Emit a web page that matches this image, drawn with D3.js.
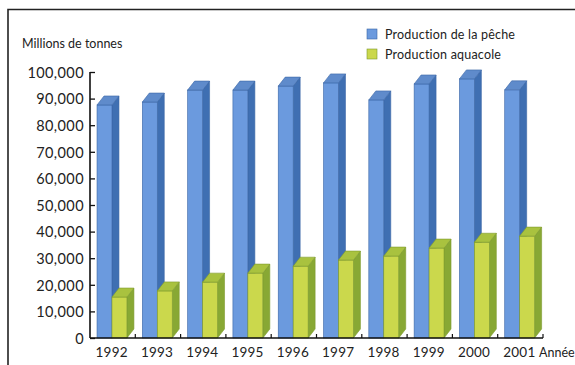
<!DOCTYPE html>
<html>
<head>
<meta charset="utf-8">
<script src="https://cdn.jsdelivr.net/npm/d3@7"></script>
<style>
  html, body { margin: 0; padding: 0; background: #fff; }
  svg { display: block; }
  text { font-family: Lato, "Open Sans", sans-serif; fill: #222; }
</style>
</head>
<body>
<svg id="chart" width="575" height="365"></svg>
<script>
// ---- data ----
const years = ["1992","1993","1994","1995","1996","1997","1998","1999","2000","2001"];
const peche = [87600, 88700, 93200, 93200, 94700, 95900, 89500, 95500, 97400, 93300];
const aquacole = [15400, 17700, 21000, 24400, 27000, 29300, 30800, 33800, 36000, 38300];
const yTicks = [0, 10000, 20000, 30000, 40000, 50000, 60000, 70000, 80000, 90000, 100000];
const seriesNames = ["Production de la pêche", "Production aquacole"];
const yTitle = "Millions de tonnes";
const xTitle = "Année";

// ---- layout ----
const svg = d3.select("#chart");
const x = d3.scaleBand().domain(years).range([90, 543]).paddingInner(0).paddingOuter(0);
const y = d3.scaleLinear().domain([0, 100000]).range([338, 72]);
const dx = 7, dy = 9;

// frame
svg.append("path").attr("d", "M8,365 L8,9.5 L575,9.5")
  .attr("fill", "none").attr("stroke", "#222").attr("stroke-width", 1.6);

const styles = [
  { front: "#6b9ade", top: "#5f8bcb", side: "#3f6fb2", stroke: "#3b66a6" },
  { front: "#cbd84c", top: "#a9c23f", side: "#88a834", stroke: "#7d9a2e" }
];

function bar3d(g, x0, w, v, st) {
  const base = y(0), yt = y(v), xr = x0 + w;
  g.append("path")
    .attr("d", `M${xr},${yt} L${xr+dx},${yt-dy} L${xr+dx},${base-dy} L${xr},${base} Z`)
    .attr("fill", st.side).attr("stroke", st.stroke).attr("stroke-width", 0.6);
  g.append("rect").attr("x", x0).attr("y", yt).attr("width", w).attr("height", base - yt)
    .attr("fill", st.front).attr("stroke", st.stroke).attr("stroke-width", 0.6);
  g.append("path")
    .attr("d", `M${x0},${yt} L${x0+dx},${yt-dy} L${xr+dx},${yt-dy} L${xr},${yt} Z`)
    .attr("fill", st.top).attr("stroke", st.stroke).attr("stroke-width", 0.6);
}

const bw = x.bandwidth();
const gBars = svg.append("g");
years.forEach((yr, i) => {
  const x0 = x(yr);
  bar3d(gBars, x0 + bw * 0.155, bw * 0.33, peche[i], styles[0]);
  bar3d(gBars, x0 + bw * 0.485, bw * 0.33, aquacole[i], styles[1]);
});

// y axis
const yAxis = d3.axisLeft(y).tickValues(yTicks).tickSize(0).tickPadding(0)
  .tickFormat(d3.format(","));
const gy = svg.append("g").attr("transform", "translate(90,0)").call(yAxis);
gy.select(".domain").remove();
gy.selectAll(".tick text").attr("x", -6).attr("dy", "0.36em")
  .style("font-size", "14.5px").style("letter-spacing", "0.4px").style("fill", "#222");
gy.selectAll(".tick").append("line").attr("x1", 0).attr("x2", 5)
  .attr("stroke", "#111").attr("stroke-width", 1.3);
svg.append("line").attr("x1", 90).attr("x2", 90).attr("y1", y(100000)).attr("y2", y(0))
  .attr("stroke", "#111").attr("stroke-width", 1.6);

// x axis
const xAxis = d3.axisBottom(x).tickSize(0).tickPadding(0);
const gx = svg.append("g").attr("transform", `translate(-1,${y(0)})`).call(xAxis);
gx.select(".domain").remove();
gx.selectAll(".tick text").attr("y", 14).attr("dy", "0.35em")
  .style("font-size", "13.5px").style("letter-spacing", "0.2px").style("fill", "#222");
svg.append("line").attr("x1", 90).attr("x2", x.range()[1]).attr("y1", y(0)).attr("y2", y(0))
  .attr("stroke", "#111").attr("stroke-width", 1.6);
const bounds = years.map(yr => x(yr) + bw);
svg.append("g").selectAll("line").data(bounds).join("line")
  .attr("x1", d => d).attr("x2", d => d).attr("y1", y(0)).attr("y2", y(0) - 4)
  .attr("stroke", "#111").attr("stroke-width", 1.2);

// titles
svg.append("text").attr("x", 22).attr("y", 48).text(yTitle).style("font-size", "12.5px");
svg.append("text").attr("x", 539).attr("y", 357).text(xTitle).style("font-size", "12.5px");

// legend
const lg = svg.append("g");
seriesNames.forEach((n, i) => {
  lg.append("rect").attr("x", 367).attr("y", 29 + i * 20).attr("width", 10).attr("height", 10)
    .attr("fill", styles[i].front).attr("stroke", styles[i].stroke).attr("stroke-width", 0.6);
  lg.append("text").attr("x", 385).attr("y", 39 + i * 20).text(n)
    .style("font-size", "12.5px").style("letter-spacing", "0.2px");
});
</script>
</body>
</html>
